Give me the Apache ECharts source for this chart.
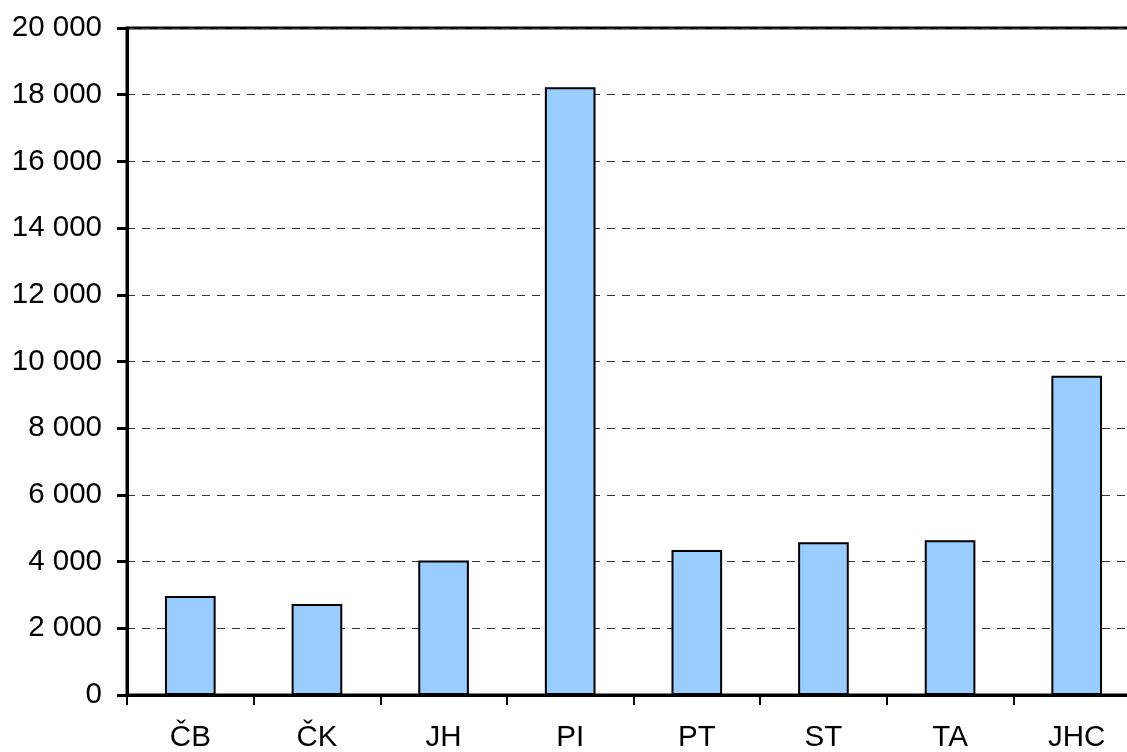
<!DOCTYPE html>
<html>
<head>
<meta charset="utf-8">
<script src="https://cdn.jsdelivr.net/npm/echarts@6/dist/echarts.min.js"></script>
<style>
  html, body { margin: 0; padding: 0; background: #fff; overflow: hidden; }
  /* plot area runs a little past the right edge of the window, as in the original */
  #chart { width: 1140px; height: 752px; }
</style>
</head>
<body>
<div id="chart"></div>
<script>
const categories = ['ČB', 'ČK', 'JH', 'PI', 'PT', 'ST', 'TA', 'JHC'];
const values = [2970, 2730, 4030, 18220, 4350, 4580, 4640, 9570];

const chart = echarts.init(document.getElementById('chart'));

// thousands separated by a space, like "20 000"
function fmt(v) {
  return String(v).replace(/\B(?=(\d{3})+(?!\d))/g, ' ');
}

const font = { fontFamily: 'Liberation Sans, Arial, sans-serif', fontSize: 29.5, color: '#000' };

chart.setOption({
  animation: false,
  grid: {
    left: 127, right: 0, top: 28, bottom: 57,
    outerBoundsMode: 'none',
    show: true, borderColor: '#000', borderWidth: 3, backgroundColor: 'transparent'
  },
  xAxis: {
    type: 'category',
    data: categories,
    axisLine: { lineStyle: { color: '#000', width: 3 } },
    axisTick: { show: true, length: 10, lineStyle: { color: '#000', width: 2 } },
    axisLabel: Object.assign({ margin: 28 }, font)
  },
  yAxis: {
    type: 'value',
    min: 0, max: 20000, interval: 2000,
    axisLine: { show: true, lineStyle: { color: '#000', width: 3 } },
    axisTick: { show: true, length: 10, lineStyle: { color: '#000', width: 3 } },
    axisLabel: Object.assign({ margin: 25, formatter: fmt }, font),
    splitLine: { lineStyle: { color: '#333', width: 1, type: [8, 7] } }
  },
  series: [{
    type: 'bar',
    data: values,
    barWidth: '40%',
    itemStyle: { color: '#99CCFF', borderColor: '#000', borderWidth: 2 }
  }]
});
</script>
</body>
</html>
